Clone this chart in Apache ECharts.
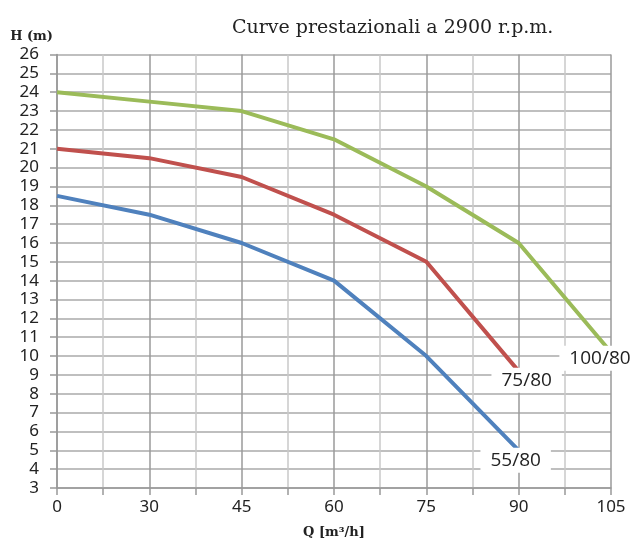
<!DOCTYPE html>
<html><head><meta charset="utf-8">
<script src="https://cdn.jsdelivr.net/npm/echarts@6/dist/echarts.min.js"></script>
<style>html,body{margin:0;padding:0;background:#fff}#c{width:634px;height:544px}</style>
</head><body><div id="c"></div>
<script>
// Q [m3/h] category labels (evenly spaced as in the reference)
const qLabels = ['0', '30', '45', '60', '75', '90', '105'];
// H (m) axis range
const hMin = 3, hMax = 26, hStep = 1;
// series
const names = ['55/80', '75/80', '100/80'];
const h55 = [18.5, 17.5, 16, 14, 10, 5];
const h75 = [21, 20.5, 19.5, 17.5, 15, 9.2];
const h100 = [24, 23.5, 23, 21.5, 19, 16, 10.2];

const colors = ['#4f81bd', '#c0504d', '#9bbb59'];
const labelOffsets = [[-3, 10], [8, 9], [-11, 6]];
const tickFont = 'Noto Sans';

const chart = echarts.init(document.getElementById('c'), null, {renderer: 'canvas'});
const mkSeries = (name, data, i) => ({
  name: name, type: 'line', data: data, xAxisIndex: 0,
  showSymbol: false, symbol: 'none', z: 3 + (2 - i),
  lineStyle: {width: 4, color: colors[i]}, itemStyle: {color: colors[i]},
  endLabel: {
    show: true, formatter: name, align: 'center', verticalAlign: 'middle',
    distance: 0, offset: labelOffsets[i], backgroundColor: '#fff',
    padding: [3, 10], fontSize: 19, fontFamily: 'Open Sans', color: '#222'
  }
});
chart.setOption({
  animation: false,
  title: {
    text: 'Curve prestazionali a 2900 r.p.m.', left: 227, top: 14,
    textStyle: {fontFamily: 'DejaVu Serif', fontSize: 19, fontWeight: 'normal', color: '#222'}
  },
  grid: {left: 57, right: 23, top: 54.5, bottom: 55.7, containLabel: false},
  xAxis: [{
    type: 'category', data: qLabels, boundaryGap: false,
    axisLine: {show: true, lineStyle: {color: '#999', width: 1.5}},
    axisTick: {show: false}, splitLine: {show: false},
    axisLabel: {fontFamily: tickFont, fontSize: 17, color: '#222', margin: 11},
    name: 'Q [m\u00b3/h]', nameLocation: 'middle', nameGap: 38,
    nameTextStyle: {fontFamily: 'DejaVu Serif', fontWeight: 'bold', fontSize: 13, color: '#222'}
  }, {
    type: 'value', min: 0, max: (qLabels.length - 1) * 2, interval: 1, position: 'bottom',
    axisLine: {show: false}, axisLabel: {show: false},
    axisTick: {show: true, length: 7, lineStyle: {color: '#999', width: 1.5}},
    splitLine: {show: true, lineStyle: {color: ['#9a9a9a', '#c8c8c8'], width: 1.5}}
  }],
  yAxis: {
    type: 'value', min: hMin, max: hMax, interval: hStep,
    axisLine: {show: true, lineStyle: {color: '#999', width: 1.5}},
    axisTick: {show: true, length: 7, lineStyle: {color: '#999', width: 1.5}},
    splitLine: {show: true, lineStyle: {color: '#aaa', width: 1.5}},
    axisLabel: {fontFamily: tickFont, fontSize: 17, color: '#222', margin: 18, lineHeight: 15},
    name: 'H (m)', nameLocation: 'end', nameGap: 11,
    nameTextStyle: {fontFamily: 'DejaVu Serif', fontWeight: 'bold', fontSize: 13, color: '#222', align: 'right', padding: [0, 4, 0, 0]}
  },
  series: [mkSeries(names[0], h55, 0), mkSeries(names[1], h75, 1), mkSeries(names[2], h100, 2)]
});
</script></body></html>
